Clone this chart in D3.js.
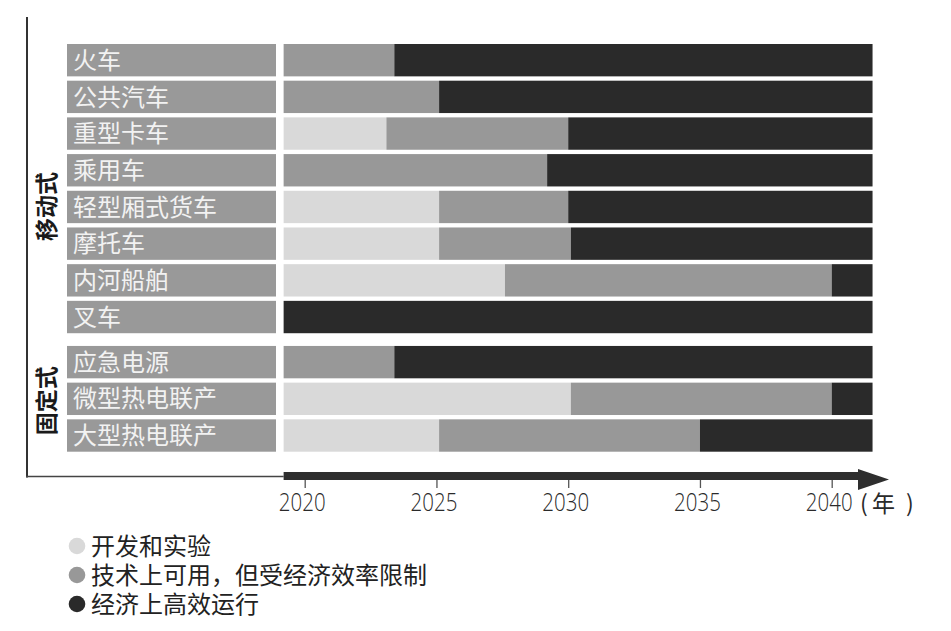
<!DOCTYPE html>
<html>
<head>
<meta charset="utf-8">
<script src="https://cdn.jsdelivr.net/npm/d3@7"></script>
<style>
  html, body { margin: 0; padding: 0; background: #fff; }
  svg { display: block; }
</style>
</head>
<body>
<div id="chart"></div>
<script>
// ---- data ----
const categories = ["火车", "公共汽车", "重型卡车", "乘用车", "轻型厢式货车", "摩托车", "内河船舶", "叉车", "应急电源", "微型热电联产", "大型热电联产"];
const groups = ["移动式", "移动式", "移动式", "移动式", "移动式", "移动式", "移动式", "移动式", "固定式", "固定式", "固定式"];
const groupNames = ["移动式", "固定式"];
const startYear = 2019.2;
const endYear = 2041.55;
// end year of "开发和实验" stage (equal to startYear when absent)
const devEnd = [2019.2, 2019.2, 2023.1, 2019.2, 2025.1, 2025.1, 2027.6, 2019.2, 2019.2, 2030.1, 2025.1];
// end year of "技术上可用，但受经济效率限制" stage
const techEnd = [2023.4, 2025.1, 2030.0, 2029.2, 2030.0, 2030.1, 2040.0, 2019.2, 2023.4, 2040.0, 2035.0];
const tickYears = [2020, 2025, 2030, 2035, 2040];
const legendLabels = ["开发和实验", "技术上可用，但受经济效率限制", "经济上高效运行"];
const stageColors = ["#d9d9d9", "#989898", "#2a2a2a"];

// ---- layout ----
const W = 951, H = 631;
const svg = d3.select("#chart").append("svg").attr("width", W).attr("height", H);
const cjk = "'Noto Sans CJK SC', 'Noto Sans', sans-serif";

const x = d3.scaleLinear().domain([2020, 2040]).range([304.7, 831.7]);
const y = d3.scaleBand().domain(categories).range([44, 44 + 36.3 * categories.length]).paddingInner(0.118).paddingOuter(0);
const groupGap = 8.4;
const rowY = (c, i) => y(c) + (groups[i] === groupNames[1] ? groupGap : 0);

// label boxes and stage bars
const rows = svg.append("g");
categories.forEach((c, i) => {
  const top = rowY(c, i);
  rows.append("rect").attr("x", 67).attr("y", top).attr("width", 209).attr("height", y.bandwidth()).attr("fill", "#999999");
  rows.append("text").attr("x", 73).attr("y", top + y.bandwidth() / 2).attr("dy", "0.36em")
    .attr("font-family", cjk).attr("font-size", 24).attr("fill", "#f2f2f2").text(c);
  const segs = [
    [startYear, devEnd[i]],
    [devEnd[i], techEnd[i]],
    [techEnd[i], endYear]
  ];
  segs.forEach((s, k) => {
    if (s[1] - s[0] <= 0) return;
    rows.append("rect").attr("x", x(s[0])).attr("y", top)
      .attr("width", x(s[1]) - x(s[0])).attr("height", y.bandwidth())
      .attr("fill", stageColors[k]);
  });
});

// group labels (vertical)
groupNames.forEach((g, gi) => {
  const idx = categories.map((c, i) => i).filter(i => groups[i] === g);
  const top = rowY(categories[idx[0]], idx[0]);
  const last = idx[idx.length - 1];
  const bot = rowY(categories[last], last) + y.bandwidth();
  const cy = (top + bot) / 2 + (gi === 0 ? 18 : 2);
  svg.append("text").attr("transform", `translate(47,${cy}) rotate(-90)`)
    .attr("text-anchor", "middle").attr("dy", "0.36em")
    .attr("font-family", cjk).attr("font-weight", "bold").attr("font-size", 23).attr("fill", "#1a1a1a").text(g);
});

// left axis line and baseline
svg.append("line").attr("x1", 27).attr("x2", 27).attr("y1", 17).attr("y2", 477.5).attr("stroke", "#333").attr("stroke-width", 2);
svg.append("line").attr("x1", 26).attr("x2", x(startYear)).attr("y1", 476.5).attr("y2", 476.5).attr("stroke", "#444").attr("stroke-width", 1.5);

// thick time arrow
svg.append("rect").attr("x", x(startYear)).attr("y", 472).attr("width", 860 - x(startYear)).attr("height", 8).attr("fill", "#2e2e2e");
svg.append("path").attr("d", "M858,469 L889,479.5 L858,490 Z").attr("fill", "#2e2e2e");

// x axis ticks
const axis = d3.axisBottom(x).tickValues(tickYears).tickFormat(d3.format("d")).tickSize(8).tickPadding(5);
const ax = svg.append("g").attr("transform", "translate(0,480)").call(axis);
ax.select(".domain").remove();
ax.selectAll(".tick line").attr("stroke", "#555").attr("stroke-width", 1.3);
ax.selectAll(".tick text").attr("font-family", "'Open Sans', 'Liberation Sans', sans-serif")
  .attr("font-weight", 300)
  .attr("font-size", 25).attr("fill", "#2a2a2a").attr("x", -3.6).attr("y", 13)
  .attr("transform", "scale(0.82,1)");
const unit = svg.append("text").attr("y", 512).attr("font-family", cjk).attr("font-size", 23).attr("fill", "#2a2a2a");
unit.append("tspan").attr("x", 860).text("(");
unit.append("tspan").attr("x", 872).text("年");
unit.append("tspan").attr("x", 906).text(")");

// legend
const lg = svg.append("g");
legendLabels.forEach((l, i) => {
  const cy = 546 + i * 29;
  lg.append("circle").attr("cx", 77).attr("cy", cy).attr("r", 8.3).attr("fill", stageColors[i]);
  lg.append("text").attr("x", 91).attr("y", cy).attr("dy", "0.36em").attr("font-family", cjk)
    .attr("font-size", 24).attr("fill", "#222").text(l);
});
</script>
</body>
</html>
